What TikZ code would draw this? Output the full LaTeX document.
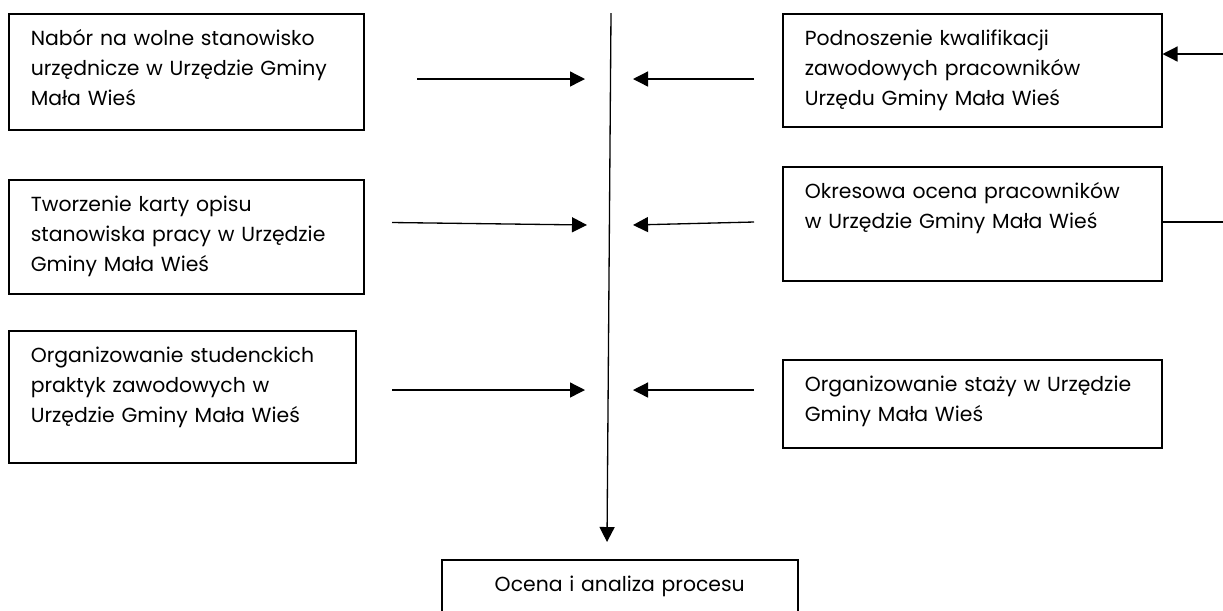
\documentclass[tikz,border=0pt]{standalone}
\usepackage{fontspec}
\setmainfont{Poppins}
\usepackage{tikz}
\usetikzlibrary{arrows.meta}
\tikzset{
    task-box/.style = {draw, line width=0.9pt, rectangle, anchor=north west, align=left, inner xsep=0.44cm, inner ysep=0pt, text height=0.64cm, font=\fontsize{11.6}{17.07}\selectfont},
    flow-arrow/.style = {line width=0.75pt, -{Triangle[length=0.3cm, width=0.3cm]}},
    flow-line/.style = {line width=0.75pt},
}

\begin{document}
\begin{tikzpicture}[x=0.02cm, y=-0.02cm]
\clip (0,0) rectangle (1223,610);
\node[task-box, text width=6.22cm, text depth=1.68cm] (nabor) at (8,13) {Nabór na wolne stanowisko\\urzędnicze w Urzędzie Gminy\\Mała Wieś};
\node[task-box, text width=6.22cm, text depth=1.64cm] (karta) at (8,179) {Tworzenie karty opisu\\stanowiska pracy w Urzędzie\\Gminy Mała Wieś};
\node[task-box, text width=6.06cm, text depth=2.0cm] (praktyki) at (8,330) {Organizowanie studenckich\\praktyk zawodowych w\\Urzędzie Gminy Mała Wieś};
\node[task-box, text width=6.7cm, text depth=1.62cm] (kwalifikacje) at (782,13) {Podnoszenie kwalifikacji\\zawodowych pracowników\\Urzędu Gminy Mała Wieś};
\node[task-box, text width=6.7cm, text depth=1.64cm] (ocena) at (782,166) {Okresowa ocena pracowników\\w Urzędzie Gminy Mała Wieś};
\node[task-box, text width=6.7cm, text depth=1.12cm] (staze) at (782,359) {Organizowanie staży w Urzędzie\\Gminy Mała Wieś};
\node[task-box, align=center, text width=6.24cm, text depth=1.2cm] (analiza) at (441,559) {Ocena i analiza procesu};

\coordinate (spine-top) at (611,13);
\coordinate (spine-end) at (607,542);
\draw[flow-arrow] (spine-top) -- (spine-end);

\coordinate (in1) at (417,79);
\coordinate (hit1) at (585,79);
\coordinate (in2) at (392,222.5);
\coordinate (hit2) at (587,225);
\coordinate (in3) at (392,390);
\coordinate (hit3) at (585,390);
\draw[flow-arrow] (in1) -- (hit1);
\draw[flow-arrow] (in2) -- (hit2);
\draw[flow-arrow] (in3) -- (hit3);

\coordinate (out1) at (754,79);
\coordinate (back1) at (633,79);
\coordinate (out2) at (754,222);
\coordinate (back2) at (633,225);
\coordinate (out3) at (754,390);
\coordinate (back3) at (633,390);
\draw[flow-arrow] (out1) -- (back1);
\draw[flow-arrow] (out2) -- (back2);
\draw[flow-arrow] (out3) -- (back3);

\coordinate (feed-in) at (1223,54);
\coordinate (feed-out) at (1223,222);
\draw[flow-arrow] (feed-in) -- (feed-in -| kwalifikacje.east);
\draw[flow-line] (ocena.east |- feed-out) -- (feed-out);
\end{tikzpicture}
\end{document}
